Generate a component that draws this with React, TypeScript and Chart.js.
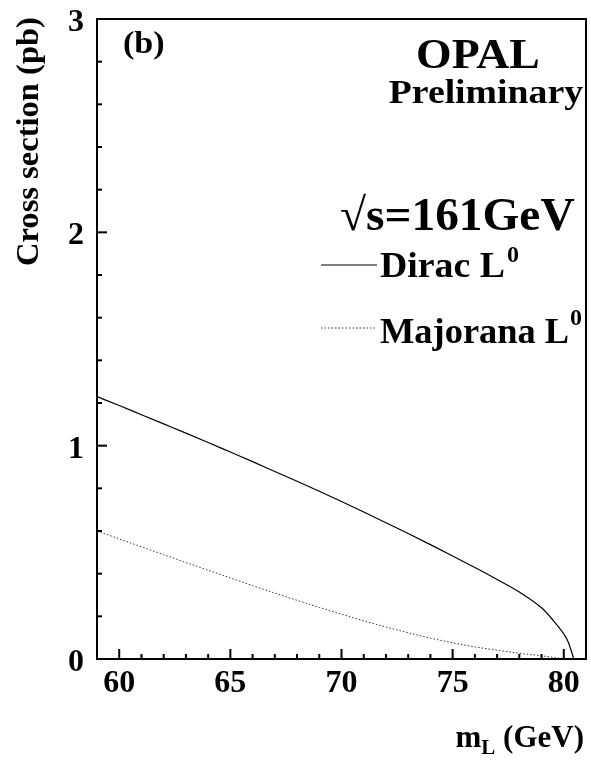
import React, { useEffect, useRef } from "react";
import { Chart, registerables } from "chart.js";

Chart.register(...registerables);

// ---- data ----
const diracMass = [59, 60, 61, 62, 63, 64, 65, 66, 67, 68, 69, 70, 71, 72, 73, 74, 75, 76, 77, 78, 79, 79.5, 80, 80.2, 80.45];
const diracXsec = [1.23, 1.188, 1.145, 1.102, 1.059, 1.015, 0.97, 0.925, 0.879, 0.833, 0.786, 0.738, 0.689, 0.639, 0.588, 0.536, 0.483, 0.429, 0.373, 0.314, 0.24, 0.184, 0.117, 0.08, 0.0];

const majoranaMass = [59, 60, 61, 62, 63, 64, 65, 66, 67, 68, 69, 70, 71, 72, 73, 74, 75, 76, 77, 78, 79, 79.5, 80];
const majoranaXsec = [0.6, 0.563, 0.526, 0.489, 0.452, 0.416, 0.38, 0.344, 0.309, 0.275, 0.242, 0.21, 0.179, 0.15, 0.123, 0.098, 0.076, 0.057, 0.041, 0.027, 0.015, 0.008, 0.0];

const xMajorTicks = [60, 65, 70, 75, 80];
const yMajorTicks = [0, 1, 2, 3];
const xMin = 59;
const xMax = 81;
const yMin = 0;
const yMax = 3;

const FONT = '"Liberation Serif", "Times New Roman", serif';

function drawText(
  ctx: CanvasRenderingContext2D,
  s: string,
  x: number,
  y: number,
  size: number,
  align: CanvasTextAlign = "left",
  sx = 1
) {
  ctx.save();
  ctx.font = `bold ${size}px ${FONT}`;
  ctx.textAlign = align;
  ctx.textBaseline = "alphabetic";
  ctx.translate(x, y);
  ctx.scale(sx, 1);
  ctx.fillStyle = "#000";
  ctx.fillText(s, 0, 0);
  const w = ctx.measureText(s).width * sx;
  ctx.restore();
  return w;
}

function textWidth(ctx: CanvasRenderingContext2D, s: string, size: number) {
  ctx.save();
  ctx.font = `bold ${size}px ${FONT}`;
  const w = ctx.measureText(s).width;
  ctx.restore();
  return w;
}

const framePlugin = {
  id: "opalFrame",
  afterDatasetsDraw(chart: any) {
    const ctx: CanvasRenderingContext2D = chart.ctx;
    const { left, right, top, bottom } = chart.chartArea;
    const xs = chart.scales.x;
    const ys = chart.scales.y;
    ctx.save();
    ctx.strokeStyle = "#000";
    ctx.lineWidth = 2;
    ctx.strokeRect(left, top, right - left, bottom - top);

    // x ticks (inward)
    for (let v = Math.ceil(xMin); v <= xMax; v += 1) {
      const px = xs.getPixelForValue(v);
      if (px <= left + 1 || px >= right - 1) continue;
      const major = xMajorTicks.includes(v);
      const len = major ? 10 : 5;
      ctx.beginPath();
      ctx.moveTo(px, bottom);
      ctx.lineTo(px, bottom - len);
      ctx.stroke();
    }
    // y ticks (inward)
    for (let i = 0; i <= 15; i++) {
      const v = yMin + i * 0.2;
      const py = ys.getPixelForValue(v);
      if (py >= bottom - 1 || py <= top + 1) continue;
      const major = Math.abs(v - Math.round(v)) < 1e-6;
      const len = major ? 10 : 5;
      ctx.beginPath();
      ctx.moveTo(left, py);
      ctx.lineTo(left + len, py);
      ctx.stroke();
    }

    // tick labels
    xMajorTicks.forEach((v) => {
      drawText(ctx, String(v), xs.getPixelForValue(v), 692, 32, "center");
    });
    yMajorTicks.forEach((v) => {
      drawText(ctx, String(v), 84, ys.getPixelForValue(v) + 12, 32, "right");
    });

    // y axis title
    ctx.save();
    ctx.translate(38, 266);
    ctx.rotate(-Math.PI / 2);
    drawText(ctx, "Cross section (pb)", 0, 0, 31, "left", 1.05);
    ctx.restore();

    // m_L (GeV)
    const mSize = 31;
    const subSize = 21;
    const wm = textWidth(ctx, "m", mSize);
    const wl = textWidth(ctx, "L", subSize);
    const wg = textWidth(ctx, " (GeV)", mSize);
    const x0 = 584 - (wm + wl + wg);
    const by = 747;
    drawText(ctx, "m", x0, by, mSize);
    drawText(ctx, "L", x0 + wm, by + 7, subSize);
    drawText(ctx, " (GeV)", x0 + wm + wl, by, mSize);

    // annotations
    drawText(ctx, "(b)", 123, 53, 31, "left", 1.1);
    drawText(ctx, "OPAL", 478, 68, 42, "center", 1.09);
    drawText(ctx, "Preliminary", 583, 103, 34, "right", 1.11);
    drawText(ctx, "\u221As=161GeV", 340, 230, 46, "left", 1.03);

    // legend
    const lx1 = 321;
    const lx2 = 377;
    ctx.lineWidth = 1.2;
    ctx.strokeStyle = "#000";
    ctx.setLineDash([]);
    ctx.beginPath();
    ctx.moveTo(lx1, 265);
    ctx.lineTo(lx2, 265);
    ctx.stroke();
    ctx.lineWidth = 1;
    ctx.strokeStyle = "#333";
    ctx.setLineDash([1.5, 2]);
    ctx.beginPath();
    ctx.moveTo(lx1, 328);
    ctx.lineTo(lx2, 328);
    ctx.stroke();
    ctx.setLineDash([]);

    const legSize = 35;
    const wD = drawText(ctx, "Dirac L", 380, 277, legSize, "left", 1.08);
    drawText(ctx, "0", 380 + wD + 2, 262, 24);
    const wM = drawText(ctx, "Majorana L", 380, 343, legSize, "left", 1.04);
    drawText(ctx, "0", 380 + wM + 1, 325, 24);

    ctx.restore();
  },
};

export default function App() {
  const ref = useRef<HTMLCanvasElement | null>(null);
  useEffect(() => {
    if (!ref.current) return;
    const chart = new Chart(ref.current, {
      type: "line",
      data: {
        datasets: [
          {
            label: "Dirac L0",
            data: diracMass.map((m, i) => ({ x: m, y: diracXsec[i] })),
            borderColor: "#000",
            borderWidth: 1.2,
            pointRadius: 0,
            fill: false,
            cubicInterpolationMode: "monotone",
          },
          {
            label: "Majorana L0",
            data: majoranaMass.map((m, i) => ({ x: m, y: majoranaXsec[i] })),
            borderColor: "#333",
            borderWidth: 1,
            borderDash: [1.5, 2],
            pointRadius: 0,
            fill: false,
            cubicInterpolationMode: "monotone",
          },
        ],
      },
      options: {
        animation: false,
        responsive: false,
        maintainAspectRatio: false,
        devicePixelRatio: 1,
        layout: { padding: { left: 97, right: 5, top: 19, bottom: 105 } },
        plugins: {
          legend: { display: false },
          tooltip: { enabled: false },
        },
        scales: {
          x: { type: "linear", min: xMin, max: xMax, display: false },
          y: { type: "linear", min: yMin, max: yMax, display: false },
        },
      },
      plugins: [framePlugin],
    });
    return () => chart.destroy();
  }, []);
  return (
    <canvas
      ref={ref}
      width={591}
      height={764}
      style={{ position: "fixed", left: 0, top: 0, width: 591, height: 764, background: "#fff" }}
    />
  );
}
